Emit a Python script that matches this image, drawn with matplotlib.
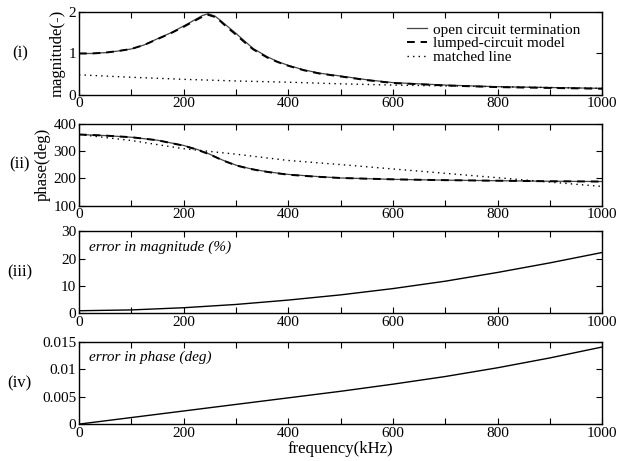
import matplotlib
matplotlib.use('Agg')
import matplotlib.pyplot as plt
from matplotlib.ticker import MultipleLocator

plt.rcParams['font.family'] = ['Liberation Serif', 'DejaVu Serif']
plt.rcParams['font.size'] = 11

# (i) magnitude
f_mag = [0, 25, 50, 75, 100, 125, 150, 175, 200, 220, 235, 247, 260, 270, 283, 300,
         315, 333, 360, 380, 400, 430, 460, 500, 550, 600, 650, 700, 750, 800, 850,
         900, 950, 1000]
mag_open = [1.00, 1.00, 1.02, 1.06, 1.11, 1.21, 1.36, 1.50, 1.67, 1.81, 1.92, 1.97,
            1.91, 1.81, 1.67, 1.49, 1.32, 1.12, 0.92, 0.80, 0.71, 0.60, 0.52, 0.45,
            0.36, 0.29, 0.26, 0.23, 0.21, 0.19, 0.18, 0.17, 0.16, 0.15]
mag_lumped = [1.00, 1.00, 1.02, 1.06, 1.11, 1.21, 1.35, 1.49, 1.65, 1.79, 1.89, 1.94,
              1.89, 1.79, 1.64, 1.46, 1.29, 1.10, 0.90, 0.79, 0.70, 0.59, 0.51, 0.44,
              0.35, 0.28, 0.25, 0.22, 0.20, 0.18, 0.17, 0.16, 0.15, 0.14]
f_match = [0, 100, 200, 300, 400, 500, 600, 700, 800, 900, 1000]
mag_match = [0.48, 0.42, 0.37, 0.33, 0.30, 0.26, 0.23, 0.21, 0.19, 0.17, 0.15]

# (ii) phase
f_ph = [0, 50, 100, 150, 200, 225, 250, 275, 300, 325, 350, 375, 400, 450, 500, 600,
        700, 800, 900, 1000]
ph_open = [360, 356, 350, 339, 320, 306, 288, 266, 248, 236, 227, 220, 214, 207, 201,
           196, 193, 191, 189, 188]
ph_lumped = [360, 356, 350, 339, 319, 305, 287, 265, 247, 235, 226, 219, 213, 206, 201,
             196, 193, 191, 189, 188]
ph_match = [360, 338, 308, 288, 265, 250, 234, 218, 202, 186, 170]

# (iii), (iv) errors
f_err = [0, 100, 200, 300, 400, 500, 600, 700, 800, 900, 1000]
err_mag = [1.0, 1.3, 2.1, 3.3, 4.9, 6.8, 9.1, 11.8, 15.0, 18.5, 22.3]
err_ph = [0.0, 0.0012, 0.0024, 0.0036, 0.0048, 0.0060, 0.0073, 0.0087, 0.0103,
          0.0121, 0.0141]

fig = plt.figure(figsize=(6.17, 4.61), dpi=100)
left, width, height = 0.128, 0.848, 0.178
bottoms = [0.795, 0.554, 0.320, 0.080]
axes = [fig.add_axes([left, b, width, height]) for b in bottoms]

for ax in axes:
    ax.set_xlim(0, 1000)
    ax.xaxis.set_major_locator(MultipleLocator(200))
    ax.xaxis.set_minor_locator(MultipleLocator(100))
    ax.tick_params(which='both', direction='in', top=True, right=True,
                   length=4.5, width=0.8, labelsize=11, pad=2)
    for s in ax.spines.values():
        s.set_linewidth(1.0)

ax1, ax2, ax3, ax4 = axes

ax1.plot(f_mag, mag_open, color='#444444', lw=0.9, label='open circuit termination')
ax1.plot(f_mag, mag_lumped, color='black', lw=1.4, ls=(0, (4, 3)), label='lumped-circuit model')
ax1.plot(f_match, mag_match, color='black', lw=1.0, ls=(0, (1, 3)), label='matched line')
ax1.set_ylim(0, 2)
ax1.yaxis.set_major_locator(MultipleLocator(1))
ax1.set_ylabel('magnitude(-)', labelpad=2, fontsize=12)
ax1.legend(loc='upper left', frameon=False, handlelength=1.3, handletextpad=0.4,
           labelspacing=0.0, fontsize=11, bbox_to_anchor=(0.615, 0.945), borderaxespad=0.0)

ax2.plot(f_ph, ph_open, color='#444444', lw=0.9)
ax2.plot(f_ph, ph_lumped, color='black', lw=1.4, ls=(0, (4, 3)))
ax2.plot(f_match, ph_match, color='black', lw=1.0, ls=(0, (1, 3)))
ax2.set_ylim(100, 400)
ax2.yaxis.set_major_locator(MultipleLocator(100))
ax2.set_ylabel('phase(deg)', labelpad=2, fontsize=12)

ax3.plot(f_err, err_mag, color='black', lw=1.0)
ax3.set_ylim(0, 30)
ax3.yaxis.set_major_locator(MultipleLocator(10))
ax3.text(0.02, 0.81, 'error in magnitude (%)', transform=ax3.transAxes,
         style='italic', fontsize=11, va='center')

ax4.plot(f_err, err_ph, color='black', lw=1.0)
ax4.set_ylim(0, 0.015)
ax4.set_yticks([0, 0.005, 0.01, 0.015])
ax4.set_yticklabels(['0', '0.005', '0.01', '0.015'])
ax4.text(0.02, 0.81, 'error in phase (deg)', transform=ax4.transAxes,
         style='italic', fontsize=11, va='center')
ax4.set_xlabel('frequency(kHz)', labelpad=1, fontsize=12)

for lab, b in zip(['(i)', '(ii)', '(iii)', '(iv)'], bottoms):
    fig.text(0.032, b + height / 2, lab, fontsize=12, va='center', ha='center')

fig.savefig('out.png', dpi=100)
